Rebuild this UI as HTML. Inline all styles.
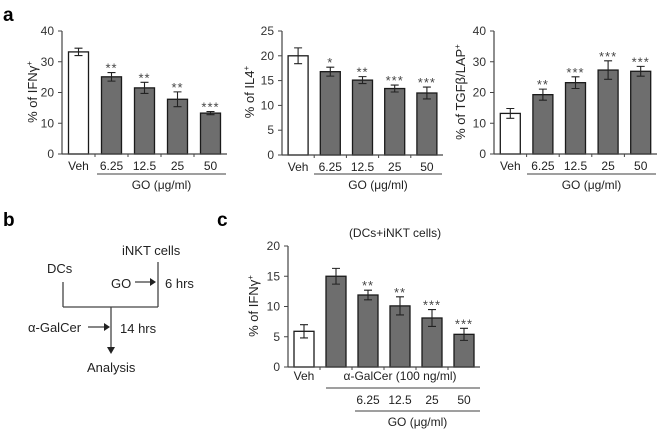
<!DOCTYPE html>
<html><head><meta charset="utf-8"><style>
body{margin:0;background:#fff}
svg{display:block;font-family:"Liberation Sans",sans-serif}
</style></head><body>
<svg id="fig" width="660" height="430" viewBox="0 0 660 430">
<text x="3" y="21" font-size="19" font-weight="bold">a</text>
<text x="3" y="226" font-size="19" font-weight="bold">b</text>
<text x="217" y="226" font-size="19" font-weight="bold">c</text>
<g font-size="13" fill="#222" stroke="#444">
<text x="122" y="255" stroke="none">iNKT cells</text>
<text x="47" y="273" stroke="none">DCs</text>
<line x1="63" y1="282" x2="63" y2="307" stroke-width="1.3"/>
<line x1="158" y1="262" x2="158" y2="307" stroke-width="1.3"/>
<line x1="63" y1="307" x2="158" y2="307" stroke-width="1.3"/>
<line x1="111" y1="307" x2="111" y2="348" stroke-width="1.3"/>
<polygon points="107,347 115,347 111,354" stroke="none" fill="#222"/>
<text x="111" y="288" stroke="none">GO</text>
<line x1="135" y1="282" x2="150" y2="282" stroke-width="1.3"/>
<polygon points="150,278 156,282 150,286" stroke="none" fill="#222"/>
<text x="165" y="288" stroke="none">6 hrs</text>
<text x="28" y="332" stroke="none">α-GalCer</text>
<line x1="88" y1="327" x2="104" y2="327" stroke-width="1.3"/>
<polygon points="104,323 110,327 104,331" stroke="none" fill="#222"/>
<text x="120" y="333" stroke="none">14 hrs</text>
<text x="87" y="372" stroke="none">Analysis</text>
</g>
<text x="395" y="237" font-size="12" text-anchor="middle" fill="#222">(DCs+iNKT cells)</text>
</svg>
<script>
const a1Values=[33.2,25.1,21.5,17.8,13.3];
const a1Errors=[1.2,1.4,1.8,2.4,0.5];
const a1Stars=["","**","**","**","***"];
const a2Values=[20,16.8,15.1,13.4,12.5];
const a2Errors=[1.6,0.9,0.7,0.7,1.2];
const a2Stars=["","*","**","***","***"];
const a3Values=[13.2,19.3,23.2,27.3,26.9];
const a3Errors=[1.6,1.8,1.9,3.0,1.6];
const a3Stars=["","**","***","***","***"];
const cValues=[5.9,15.0,11.9,10.1,8.1,5.4];
const cErrors=[1.1,1.3,0.8,1.5,1.4,1.0];
const cStars=["","","**","**","***","***"];
const aCategories=["Veh","6.25","12.5","25","50"];
const a1Ticks=[0,10,20,30,40];
const a2Ticks=[0,5,10,15,20,25];
const a3Ticks=[0,10,20,30,40];
const cTicks=[0,5,10,15,20];
const svg=document.getElementById('fig');
const NS='http://www.w3.org/2000/svg';
function mk(tag,attrs,parent,text){const e=document.createElementNS(NS,tag);for(const k in attrs)e.setAttribute(k,attrs[k]);if(text!==undefined)e.textContent=text;parent.appendChild(e);return e;}
function chart(name,x0,x1,y0,yTop,max,ticks,vals,errs,stars,cats,ylab,ylx,yly){
  const g=mk('g',{},svg);
  
  
  const n=vals.length,step=(x1-x0)/n,bw=20;
  const ys=v=>y0-(v/max)*(y0-yTop);
  const xc=i=>x0+step*(i+0.5);
  ticks.forEach(t=>{
    mk('line',{x1:x0-4,x2:x0,y1:ys(t),y2:ys(t),stroke:'#444'},g);
    const tl=mk('text',{x:x0-8,y:ys(t)+4,'font-size':12,'text-anchor':'end',fill:'#333'},g,String(t));
    
    
  });
  vals.forEach((v,i)=>{
    const r=mk('rect',{x:xc(i)-bw/2,y:ys(v),width:bw,height:y0-ys(v),fill:i===0?'#fff':'#6e6e6e',stroke:'#1a1a1a','stroke-width':1.3},g);
    
    
    const e=errs[i],hi=ys(v+e),lo=ys(v-e),c=xc(i);
    mk('path',{d:`M${c},${hi}V${lo}M${c-4},${hi}H${c+4}M${c-4},${lo}H${c+4}`,stroke:'#222','stroke-width':1.1,fill:'none'},g);
    if(stars[i]){const s=mk('text',{x:c,y:hi,'font-size':13,'letter-spacing':1,'text-anchor':'middle',fill:'#444'},g,stars[i]);
      
      }
    if(i>0) mk('line',{x1:x0+step*i,x2:x0+step*i,y1:y0,y2:y0+3,stroke:'#444'},g);
    if(cats){const t=mk('text',{x:c,y:y0+16,'font-size':12,'text-anchor':'middle',fill:'#222'},g,cats[i]);
      
      }
  });
  mk('line',{x1:x0,x2:x0,y1:yTop,y2:y0,stroke:'#444','stroke-width':1.2},g);
  mk('line',{x1:x0,x2:x1,y1:y0,y2:y0,stroke:'#444','stroke-width':1.2},g);
  const yl=mk('text',{x:0,y:0,'font-size':13,'text-anchor':'middle',fill:'#222',transform:`translate(${ylx},${yly}) rotate(-90)`},g);
  
  
  yl.innerHTML=ylab;
  return {xc,step};
}
function goLabel(x1,x2,y){
  mk('line',{x1:x1,x2:x2,y1:y,y2:y,stroke:'#666','stroke-width':1.2},svg);
  const t=mk('text',{x:(x1+x2)/2,y:y+15,'font-size':12,'text-anchor':'middle',fill:'#222'},svg,'GO (μg/ml)');
  
  
}
const sup='<tspan font-size="8" dy="-5">+</tspan>';
chart('ifng-chart',62,227,154,31,40,a1Ticks,a1Values,a1Errors,a1Stars,aCategories,'% of IFNγ'+sup,37,92);
goLabel(97,226,174);
chart('il4-chart',282,443,155,31,25,a2Ticks,a2Values,a2Errors,a2Stars,aCategories,'% of IL4'+sup,254,92);
goLabel(314,442,174);
chart('tgfb-chart',494,657,154,31,40,a3Ticks,a3Values,a3Errors,a3Stars,aCategories,'% of TGFβ/LAP'+sup,465,92);
goLabel(527,656,174);
const cc=chart('c-ifng-chart',288,480,367,246,20,cTicks,cValues,cErrors,cStars,null,'% of IFNγ'+sup,258,306);
const vt=mk('text',{x:cc.xc(0),y:380,'font-size':12,'text-anchor':'middle',fill:'#222'},svg,'Veh');


const gt=mk('text',{x:400,y:380,'font-size':12,'text-anchor':'middle',fill:'#222'},svg,'α-GalCer (100 ng/ml)');


mk('line',{x1:326,x2:480,y1:388,y2:388,stroke:'#666','stroke-width':1.2},svg);
aCategories.slice(1).forEach((c,i)=>{
  const t=mk('text',{x:cc.xc(i+2),y:404,'font-size':12,'text-anchor':'middle',fill:'#222'},svg,c);
  
  
});
goLabel(355,480,411);
</script>
</body></html>
